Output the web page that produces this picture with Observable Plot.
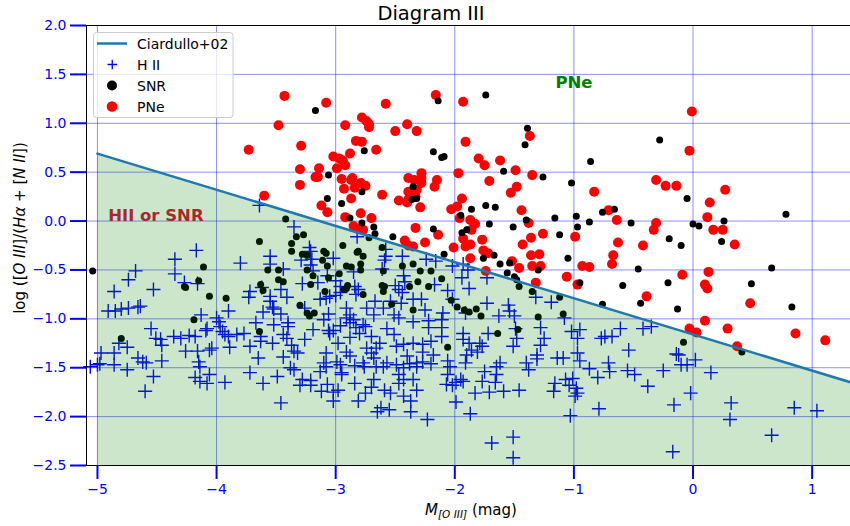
<!DOCTYPE html>
<html>
<head>
<meta charset="utf-8">
<script src="https://cdn.jsdelivr.net/npm/d3@7"></script>
<script src="https://cdn.jsdelivr.net/npm/@observablehq/plot@0.6"></script>
<style>
  body { margin: 0; background: #fff; }
  #chart { width: 850px; height: 526px; }
  #chart svg { font-family: "DejaVu Sans", sans-serif; }
</style>
</head>
<body>
<div id="chart"></div>
<script>
// Diagnostic diagram: M[O III] vs log([O III]/(Hα+[N II])), [M, log ratio] pairs

const pne = [
  [-3.43,1.28],[-3.08,1.21],[-2.58,1.20],[-3.48,0.98],[-2.92,0.98],[-2.78,1.06],[-2.74,1.02],[-2.72,0.99],
  [-2.72,0.96],[-2.40,0.99],[-2.50,0.92],[-2.32,0.92],[-3.73,0.73],[-3.29,0.77],[-2.83,0.82],[-2.78,0.81],
  [-2.88,0.69],[-2.66,0.73],[-3.02,0.66],[-2.97,0.64],[-2.94,0.62],[-2.92,0.57],[-2.99,0.54],[-3.14,0.54],
  [-3.30,0.53],[-3.17,0.45],[-3.15,0.45],[-2.95,0.43],[-2.86,0.44],[-2.87,0.42],[-2.79,0.39],[-2.75,0.36],
  [-2.84,0.34],[-2.93,0.33],[-3.30,0.37],[-2.39,0.44],[-2.34,0.42],[-2.39,0.30],[-2.32,0.32],[-3.60,0.26],
  [-2.61,0.27],[-2.87,0.23],[-2.47,0.21],[-2.40,0.19],[-2.39,0.22],[-3.12,0.16],[-3.07,0.09],[-2.79,0.08],
  [-2.92,0.04],[-2.70,0.03],[-2.85,-0.05],[-2.81,-0.08],[-2.77,-0.09],[-2.33,-0.07],[-2.42,-0.20],[-2.39,-0.25],
  [-2.35,-0.26],
  [-2.16,1.29],[-1.93,1.22],[-1.37,0.87],[-1.91,0.81],[-1.80,0.64],[-1.75,0.57],[-1.62,0.62],[-1.49,0.52],
  [-1.35,0.47],[-1.97,0.49],[-2.28,0.49],[-2.28,0.44],[-2.28,0.39],[-2.15,0.42],[-2.17,0.35],[-1.71,0.41],
  [-1.48,0.35],[-1.53,0.29],[-2.33,0.25],[-1.94,0.23],[-2.29,0.14],[-2.03,0.12],[-1.98,0.15],[-1.96,0.03],
  [-1.44,0.11],[-1.87,0.01],[-1.83,-0.03],[-1.86,-0.09],[-2.14,-0.14],[-1.38,-0.02],[-1.26,-0.13],[-1.36,-0.17],
  [-0.99,-0.16],[-1.93,-0.18],[-1.87,-0.24],[-1.91,-0.26],[-1.77,-0.19],[-1.76,-0.30],[-2.01,-0.27],[-2.25,-0.22],
  [-1.43,-0.24],[-1.72,-0.33],[-1.36,-0.35],[-1.29,-0.34],[-1.87,-0.38],
  [-0.01,1.12],[-0.03,0.72],[-0.31,0.42],[-0.23,0.36],[-0.14,0.36],[0.27,0.32],[-0.83,0.30],[0.14,0.19],
  [0.12,0.04],[-0.71,0.11],[-0.64,0.01],[-0.31,-0.02],[-0.33,-0.09],[0.17,-0.09],[0.25,-0.09],[0.35,-0.24],
  [-0.63,-0.22],[-0.42,-0.25],[-0.67,-0.35],
  [-0.68,-0.44],[-0.87,-0.47],[-0.09,-0.55],[0.13,-0.52],[0.10,-0.65],[0.12,-0.69],[-0.39,-0.77],[0.48,-0.84],
  [0.10,-1.02],[-0.03,-1.10],[0.03,-1.14],[0.29,-1.10],[0.86,-1.15],[1.11,-1.22],[0.37,-1.28],
  [-1.74,-0.51],[-1.52,-0.41],[-1.46,-0.48],[-1.35,-0.46],[-1.28,-0.46],[-1.32,-0.63],[-1.06,-0.57],[-0.97,-0.65],
  [-0.93,-0.46]
];

const snr = [
  [-3.17,1.13],[-2.76,0.72],[-3.06,0.47],[-2.78,0.30],[-2.35,0.35],[-2.36,0.22],[-2.32,0.23],[-3.07,0.23],
  [-2.95,0.18],[-2.88,0.03],[-2.78,-0.02],[-2.68,-0.06],[-2.67,-0.13],[-2.52,-0.16],[-2.72,-0.17],
  [-3.42,0.02],[-3.33,-0.16],[-3.27,-0.14],[-3.64,-0.21],[-3.37,-0.23],[-3.37,-0.31],[-2.94,-0.25],[-3.10,-0.31],
  [-3.08,-0.33],[-3.28,-0.34],[-3.24,-0.35],[-2.82,-0.32],[-2.81,-0.31],[-2.77,-0.36],[-2.61,-0.27],
  [-2.14,1.23],[-1.74,1.29],[-1.39,0.95],[-1.41,0.78],[-2.18,0.71],[-2.11,0.65],[-2.09,0.66],[-1.59,0.51],
  [-1.26,0.45],[-1.02,0.39],[-0.86,0.61],[-1.86,0.12],[-1.74,0.16],[-1.66,0.14],[-1.95,0.06],[-1.71,-0.03],
  [-1.51,-0.06],[-1.16,0.03],[-0.98,0.05],[-0.97,-0.06],[-0.87,-0.01],[-2.18,-0.08],[-1.94,-0.12],[-1.90,-0.09],
  [-1.40,0.01],[-1.12,-0.14],[-2.09,-0.34],[-1.67,-0.35],[-1.76,-0.38],[-1.05,-0.38],
  [-0.28,0.83],[-0.05,0.23],[-0.76,0.09],[-0.66,0.12],[-0.52,-0.02],[0.00,-0.03],[0.05,-0.05],[0.26,0.00],
  [0.78,0.07],[-0.20,-0.18],[-0.10,-0.25],[0.24,-0.21],
  [-0.46,-0.49],[0.66,-0.48],[-0.59,-0.66],[-0.21,-0.63],[0.49,-0.64],[-0.76,-0.85],[-0.44,-0.84],[-0.13,-0.90],
  [0.83,-0.88],[-0.08,-1.24],[0.41,-1.34],
  [-1.62,-0.44],[-1.54,-0.43],[-1.56,-0.53],[-1.50,-0.57],[-1.48,-0.60],[-1.30,-0.50],[-0.95,-0.63],[-1.46,-0.67],
  [-1.35,-0.72],[-1.12,-0.78],[-1.09,-0.95],[-1.30,-0.98],[-1.47,-1.11],[-1.64,-1.15],[-2.06,-1.29],[-1.82,-0.90],
  [-1.78,-0.97],[-2.03,-0.81],[-1.98,-0.88],[-1.92,-0.91],[-1.88,-0.93],[-2.38,-0.67],[-2.29,-0.51],[-2.22,-0.67],
  [-2.20,-0.51],[-2.11,-0.59],[-2.35,-0.91],
  [-3.57,-0.50],[-3.48,-0.50],[-3.48,-0.60],[-3.44,-0.62],[-3.63,-0.65],[-3.61,-0.71],[-3.24,-0.50],[-3.19,-0.56],
  [-3.21,-0.65],[-3.11,-0.40],[-3.07,-0.46],[-3.06,-0.58],[-2.97,-0.54],[-2.91,-0.46],[-2.87,-0.47],[-2.79,-0.44],
  [-2.79,-0.50],[-2.93,-0.70],[-2.91,-0.69],[-2.90,-0.66],[-3.09,-0.72],[-2.77,-0.75],[-2.60,-0.51],[-2.61,-0.66],
  [-2.59,-0.67],[-2.60,-0.72],[-2.44,-0.46],[-2.35,-0.44],[-2.31,-0.62],[-2.53,-0.85],[-3.30,-0.86],[-3.24,-0.94],
  [-3.22,-0.97],[-3.18,-0.94],[-3.64,-1.13],
  [-5.04,-0.51],[-4.11,-0.47],[-4.15,-0.61],[-4.27,-0.67],[-4.26,-0.68],[-4.06,-0.77],[-3.92,-0.79],[-4.19,-1.01],
  [-4.80,-1.20]
];

const hii = [
  [-3.64,0.16],[-3.35,-0.06],[-2.82,-0.16],[-3.22,-0.27],[-3.21,-0.31],[-3.55,-0.36],[-2.58,-0.29],[-2.58,-0.36],
  [-2.44,-0.36],[-3.02,-0.38],
  [-4.17,-0.30],[-4.35,-0.39],[-4.35,-0.54],[-4.27,-0.63],[-4.16,-0.64],[-4.53,-0.70],[-4.86,-0.72],[-4.68,-0.51],
  [-4.74,-0.60],[-4.91,-0.92],[-4.85,-0.92],[-4.80,-0.90],[-4.74,-0.89],[-4.66,-0.88],[-4.64,-0.87],[-4.55,-1.10],
  [-4.51,-1.20],[-4.47,-1.21],[-4.46,-1.27],[-4.82,-1.25],[-4.75,-1.29],[-4.97,-1.35],[-4.86,-1.35],[-5.06,-1.49],
  [-5.00,-1.47],[-4.98,-1.46],[-4.86,-1.47],[-4.75,-1.52],[-4.66,-1.40],[-4.62,-1.44],[-4.59,-1.45],[-4.46,-1.43],
  [-4.53,-1.59],[-4.60,-1.74],[-4.36,-1.18],[-4.30,-1.20],[-4.23,-1.17],[-4.18,-1.18],[-4.13,-0.96],[-4.26,-1.33],
  [-4.16,-1.33],[-4.15,-1.44],[-4.14,-1.49],[-4.18,-1.60],[-4.14,-1.64],[-4.08,-1.66],[-4.06,-1.57],[-4.09,-1.12],
  [-4.08,-1.10],[-4.06,-1.32],[-4.04,-1.30],[-4.00,-0.99],[-3.98,-1.03],[-3.97,-1.08],[-3.95,-1.13],[-3.93,-1.16],
  [-3.90,-1.18],[-3.89,-1.29],[-3.93,-1.65],[-3.90,-0.92],[-3.80,-0.43],[-3.83,-1.16],[-3.77,-1.15],[-3.72,-1.28],
  [-3.72,-1.55],[-3.65,-1.40],[-3.61,-1.66],[-3.46,-1.86],[-3.49,-1.59],
  [-3.55,-0.44],[-3.29,-0.40],[-3.20,-0.39],[-3.21,-0.45],[-3.44,-0.49],[-3.19,-0.51],[-3.28,-0.64],[-3.15,-0.63],
  [-3.07,-0.56],[-3.00,-0.61],[-2.96,-0.67],[-2.85,-0.52],[-2.84,-0.67],[-2.81,-0.70],[-2.83,-0.75],[-2.96,-0.73],
  [-3.13,-0.80],[-3.08,-0.79],[-3.05,-0.77],[-3.00,-0.76],[-2.59,-0.40],[-2.61,-0.49],[-2.43,-0.56],[-2.42,-0.62],
  [-2.50,-0.66],[-2.47,-0.70],[-3.72,-0.72],[-3.73,-0.78],[-3.62,-0.68],[-3.55,-0.77],[-3.55,-0.82],[-3.53,-0.88],
  [-3.52,-0.90],[-3.46,-0.70],[-3.41,-0.78],[-3.61,-0.93],[-3.46,-0.95],[-3.67,-1.04],[-3.52,-1.06],[-3.40,-1.04],
  [-3.40,-1.08],[-3.26,-0.89],[-3.10,-1.01],[-3.06,-0.95],[-2.91,-0.89],[-2.88,-0.96],[-2.91,-0.99],[-2.85,-1.01],
  [-2.74,-0.89],[-2.68,-0.96],[-2.67,-0.82],[-2.60,-0.89],[-2.54,-0.82],[-2.51,-0.96],[-2.47,-0.99],[-2.45,-0.84],
  [-2.35,-0.80],[-2.44,-0.73],[-3.63,-1.18],[-3.63,-1.23],[-3.53,-1.25],[-3.44,-1.16],[-3.41,-1.20],[-3.37,-1.27],
  [-3.35,-1.33],[-3.19,-1.11],[-3.26,-1.21],[-3.32,-1.35],[-3.06,-1.12],[-3.02,-1.12],[-3.05,-1.15],[-2.96,-1.07],
  [-2.88,-1.04],[-2.83,-1.09],[-2.80,-1.15],[-2.77,-1.06],[-2.75,-1.08],[-2.70,-1.18],[-2.57,-1.10],[-2.51,-1.16],
  [-2.98,-1.25],[-2.88,-1.19],[-2.63,-1.25],[-2.66,-1.30],[-2.74,-1.30],[-2.49,-1.28],[-2.43,-1.26],[-2.35,-1.25],
  [-3.08,-1.35],[-2.91,-1.34],[-2.88,-1.38],[-2.70,-1.35],[-2.68,-1.40],[-2.40,-1.38],[-3.44,-1.39],[-2.99,-1.44],
  [-2.96,-1.47],[-3.10,-1.45],[-3.08,-1.49],[-3.13,-1.54],[-2.77,-1.45],[-2.76,-1.49],[-2.84,-1.48],[-2.66,-1.49],
  [-2.60,-1.49],[-2.57,-1.45],[-2.49,-1.47],[-2.43,-1.50],[-2.38,-1.46],[-2.32,-1.45],[-3.38,-1.50],[-3.35,-1.52],
  [-3.28,-1.62],[-3.21,-1.63],[-3.30,-1.68],[-3.21,-1.68],[-2.95,-1.55],[-2.95,-1.57],[-2.84,-1.66],[-2.68,-1.62],
  [-2.70,-1.70],[-2.47,-1.57],[-2.43,-1.62],[-2.47,-1.66],[-2.35,-1.62],[-2.32,-1.73],[-3.12,-1.74],[-3.07,-1.67],
  [-3.02,-1.75],[-2.98,-1.73],[-3.02,-1.84],[-2.75,-1.76],[-2.81,-1.84],[-2.59,-1.73],[-2.54,-1.76],[-2.43,-1.79],
  [-2.37,-1.84],[-2.62,-1.91],[-2.65,-1.95],[-2.55,-1.93],[-2.37,-1.95],
  [-2.24,-0.39],[-2.16,-0.41],[-2.02,-0.46],[-1.93,-0.44],[-1.89,-0.50],[-1.94,-0.58],[-2.17,-0.65],[-2.06,-0.71],
  [-1.88,-0.69],[-1.73,-0.58],[-2.02,-0.80],[-2.28,-0.80],[-2.25,-0.91],[-2.10,-0.94],[-2.11,-1.01],[-1.91,-0.94],
  [-1.73,-0.84],[-1.63,-0.97],[-1.55,-0.86],[-1.54,-0.92],[-1.50,-0.97],[-1.32,-0.78],[-1.19,-0.83],[-1.08,-0.99],
  [-2.35,-1.03],[-2.22,-1.02],[-2.22,-1.09],[-2.11,-1.09],[-2.11,-1.18],[-1.93,-1.15],[-1.93,-1.21],[-1.88,-1.25],
  [-1.79,-1.25],[-1.77,-1.28],[-1.86,-1.32],[-1.81,-1.34],[-1.90,-1.37],[-1.72,-1.15],[-1.49,-1.10],[-1.48,-1.20],
  [-1.51,-1.28],[-1.28,-1.09],[-1.25,-1.20],[-1.28,-1.27],[-1.31,-1.37],[-1.31,-1.41],[-1.14,-1.40],[-1.09,-1.40],
  [-1.02,-1.13],[-0.95,-1.11],[-0.97,-1.20],[-0.97,-1.35],[-0.95,-1.43],[-2.27,-1.26],[-2.20,-1.23],[-2.27,-1.34],
  [-2.18,-1.37],[-2.20,-1.46],[-2.27,-1.44],[-2.32,-1.49],[-2.06,-1.43],[-2.04,-1.49],[-1.91,-1.45],[-1.62,-1.45],
  [-1.65,-1.49],[-1.75,-1.54],[-1.77,-1.64],[-1.65,-1.57],[-1.66,-1.65],[-1.40,-1.45],[-1.38,-1.52],[-2.06,-1.57],
  [-2.07,-1.67],[-2.02,-1.68],[-1.99,-1.65],[-1.95,-1.62],[-1.93,-1.64],[-1.83,-1.76],[-1.71,-1.75],[-1.59,-1.74],
  [-1.46,-1.73],[-1.16,-1.66],[-1.17,-1.74],[-1.07,-1.62],[-1.01,-1.61],[-1.04,-1.68],[-0.98,-1.71],[-0.97,-1.76],
  [-0.99,-1.79],[-1.99,-1.85],[-2.23,-2.03],[-1.87,-1.97],[-1.03,-1.99],[-1.69,-2.27],[-1.51,-2.21],[-1.51,-2.42],
  [-0.61,-1.10],[-0.42,-1.10],[-0.35,-1.08],[-0.77,-1.20],[-0.74,-1.18],[-0.68,-1.18],[-0.54,-1.32],[-0.14,-1.36],
  [-0.12,-1.37],[-0.71,-1.45],[-0.70,-1.54],[-0.87,-1.51],[-0.80,-1.60],[-0.55,-1.53],[-0.49,-1.57],[-0.25,-1.53],
  [-0.10,-1.47],[-0.05,-1.47],[0.02,-1.42],[0.15,-1.55],[-0.38,-1.69],[-0.02,-1.76],[-0.79,-1.92],[-0.16,-1.88],
  [0.32,-1.86],[0.31,-2.03],[0.85,-1.91],[1.04,-1.94],[0.66,-2.19],[-0.17,-2.36]
];

// Ciardullo et al. (2002) boundary, endpoints
const ciardulloM = [-5.0, 1.5];
const ciardulloLog = [0.69, -1.715];

const xTicks = [-5, -4, -3, -2, -1, 0, 1];
const yTicks = [-2.5, -2.0, -1.5, -1.0, -0.5, 0.0, 0.5, 1.0, 1.5, 2.0];
const xDomain = [-5.092, 1.322];
const yDomain = [-2.5, 2.0];

const regionLabels = [
  {x: -4.91, y: 0.05, text: "HII or SNR", color: "#a52a2a"},
  {x: -1.155, y: 1.41, text: "PNe", color: "green"}
];

const boundary = ciardulloM.map((m, i) => ({m, l: ciardulloLog[i]}));

const chart = Plot.plot({
  width: 850,
  height: 526,
  marginLeft: 86,
  marginRight: 0,
  marginTop: 25,
  marginBottom: 61,
  x: {domain: xDomain},
  y: {domain: yDomain},
  style: {fontFamily: "DejaVu Sans", fontSize: "14px", background: "white", overflow: "visible"},
  marks: [
    Plot.gridX(xTicks, {stroke: "blue", strokeOpacity: 0.45, strokeWidth: 1}),
    Plot.gridY(yTicks, {stroke: "blue", strokeOpacity: 0.45, strokeWidth: 1}),
    Plot.dot(hii, {x: d => d[0], y: d => d[1], symbol: "plus", r: 4.6, stroke: "blue", fill: "none", strokeWidth: 1.4}),
    Plot.dot(pne, {x: d => d[0], y: d => d[1], r: 5, fill: "red"}),
    Plot.dot(snr, {x: d => d[0], y: d => d[1], r: 3.5, fill: "black"}),
    Plot.areaY(boundary, {x: "m", y1: -2.5, y2: "l", fill: "green", fillOpacity: 0.2, clip: true}),
    Plot.line(boundary, {x: "m", y: "l", stroke: "#1f77b4", strokeWidth: 2.5, clip: true}),
    Plot.text(regionLabels, {x: "x", y: "y", text: "text", fill: d => d.color, textAnchor: "start",
      fontWeight: "bold", fontSize: 16.5, fontFamily: "DejaVu Sans"}),
    Plot.ruleX([xDomain[0]], {stroke: "black", strokeWidth: 1}),
    Plot.ruleY(yDomain, {stroke: "black", strokeWidth: 1}),
    Plot.axisX(xTicks, {tickSize: 14, tickPadding: 5, stroke: "blue", fill: "blue", strokeWidth: 2,
      tickFormat: d3.format("d"), label: null, fontSize: 14}),
    Plot.axisY(yTicks, {tickSize: 16, tickPadding: 4, stroke: "blue", fill: "blue", strokeWidth: 2,
      tickFormat: d3.format(".1f"), label: null, fontSize: 14})
  ]
});

document.getElementById("chart").append(chart);

const svg = d3.select(chart);

// title
svg.append("text")
  .attr("x", 431).attr("y", 20)
  .attr("text-anchor", "middle")
  .style("font-size", "19.5px").style("fill", "black")
  .text("Diagram III");

// y axis label
const yl = svg.append("text")
  .attr("transform", "translate(20,228) rotate(-90)")
  .attr("text-anchor", "middle")
  .attr("dominant-baseline", "central")
  .style("font-size", "15px").style("fill", "black");
[["log ([", false], ["O III", true], ["]/(", false], ["Hα", true], [" + [", false], ["N II", true], ["])", false]]
  .forEach(([t, it]) => yl.append("tspan").style("font-style", it ? "italic" : "normal").text(t));

// x axis label
const xl = svg.append("text")
  .attr("x", 471).attr("y", 515)
  .attr("text-anchor", "middle")
  .style("font-size", "15px").style("fill", "black");
xl.append("tspan").style("font-style", "italic").text("M");
xl.append("tspan").attr("dy", 3).style("font-style", "italic").style("font-size", "10.5px").text("[O III]");
xl.append("tspan").attr("dy", -3).text(" (mag)");

// legend
const lg = svg.append("g").attr("text-anchor", "start");
lg.append("rect")
  .attr("x", 93.5).attr("y", 32.5).attr("width", 139.5).attr("height", 85)
  .attr("rx", 3).attr("fill", "white").attr("fill-opacity", 0.8)
  .attr("stroke", "#cccccc").attr("stroke-width", 1);
lg.append("line").attr("x1", 97).attr("x2", 127).attr("y1", 43.5).attr("y2", 43.5)
  .attr("stroke", "#1f77b4").attr("stroke-width", 2.5);
lg.append("path").attr("d", "M107.5,64.5h9.5M112.25,59.75v9.5")
  .attr("stroke", "blue").attr("stroke-width", 1.3).attr("fill", "none");
lg.append("circle").attr("cx", 112).attr("cy", 85.5).attr("r", 5).attr("fill", "black");
lg.append("circle").attr("cx", 112).attr("cy", 106.5).attr("r", 5.3).attr("fill", "red");
[["Ciardullo+02", 43.5], ["H II", 64.5], ["SNR", 85.5], ["PNe", 106.5]].forEach(([t, y]) =>
  lg.append("text").attr("x", 137).attr("y", y).attr("text-anchor", "start").attr("dominant-baseline", "central")
    .style("font-size", "14px").style("fill", "black").text(t));
</script>
</body>
</html>
